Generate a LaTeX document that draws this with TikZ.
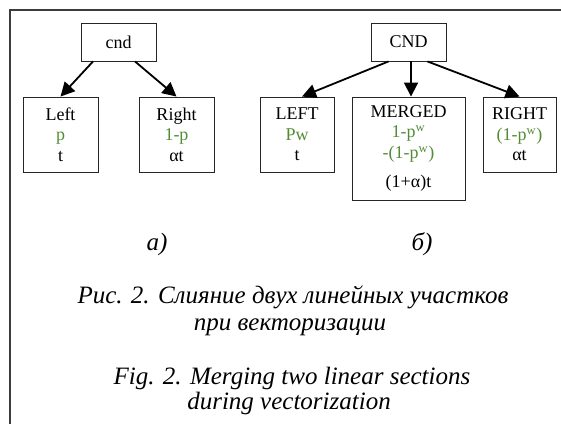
\documentclass[tikz,border=0pt]{standalone}
\usepackage{fontspec}
\setmainfont{Liberation Serif}
\usetikzlibrary{arrows.meta}
\definecolor{grn}{RGB}{82,140,52}
\definecolor{frm}{RGB}{60,60,60}
\tikzset{
  box/.style n args={2}{draw=black!85, line width=0.9pt, minimum width=#1pt,
    minimum height=#2pt, inner sep=0pt, align=center,
    font=\fontsize{18}{20.5}\selectfont},
  conn/.style={line width=1.8pt, -{Triangle[length=14pt,width=14pt]}},
  captxt/.style={inner sep=0pt, font=\itshape\fontsize{25}{27}\selectfont},
}
\begin{document}
\begin{tikzpicture}[x=1pt,y=-1pt]
\useasboundingbox (0,0) rectangle (561,424);
\draw[frm, line width=1.5pt] (561,10) -- (10,10) -- (10,424);
% a)
\node[box={75}{38}] (cnd) at (118.5,42) {cnd};
\node[box={75}{75}] (left) at (60.5,134.5) {Left\\\textcolor{grn}{p}\\t};
\node[box={75}{75}] (right) at (176.5,134.5) {Right\\\textcolor{grn}{1-p}\\αt};
\draw[conn] ([xshift=-25.5pt]cnd.south) -- (left.north);
\draw[conn] ([xshift=16.5pt]cnd.south) -- (right.north);
% b)
\node[box={75}{38}] (CND) at (408.5,42) {CND};
\node[box={74}{75}] (LEFT) at (297,134.5) {LEFT\\\textcolor{grn}{Pw}\\t};
\node[box={113}{103}] (MERGED) at (408.5,148.5) {MERGED\\\textcolor{grn}{1-p\textsuperscript{w}}\\\textcolor{grn}{-(1-p\textsuperscript{w})}\\[9pt](1+α)t};
\node[box={73}{75}] (RIGHT) at (519.5,134.5) {RIGHT\\\textcolor{grn}{(1-p\textsuperscript{w})}\\αt};
\draw[conn] ([xshift=-20pt]CND.south) -- ([xshift=5pt]LEFT.north);
\draw[conn] ([xshift=2.5pt]CND.south) -- ([xshift=2.5pt]MERGED.north);
\draw[conn] ([xshift=19pt]CND.south) -- (RIGHT.north);
% captions
\node[captxt] (la) at (157,244) {а)};
\node[captxt] (lb) at (422,244) {б)};
\node[captxt, anchor=base] (c1) at (293,303) {Рис. 2. Слияние двух линейных участков};
\node[captxt, anchor=base] (c2) at (290,330) {при векторизации};
\node[captxt, anchor=base] (c3) at (292,384) {Fig. 2. Merging two linear sections};
\node[captxt, anchor=base] (c4) at (289,409) {during vectorization};
\end{tikzpicture}
\end{document}
